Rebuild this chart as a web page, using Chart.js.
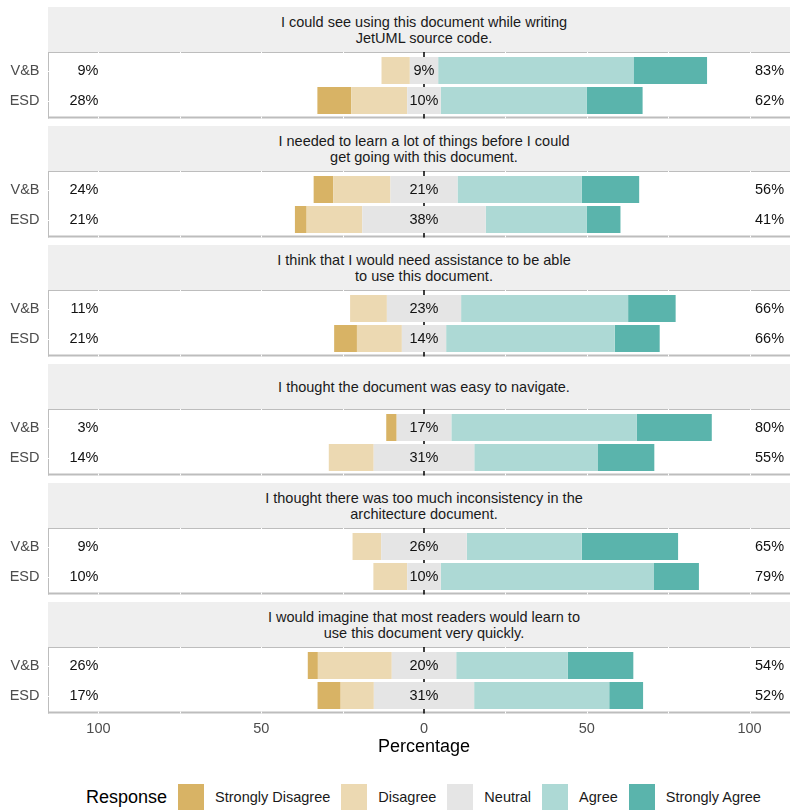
<!DOCTYPE html>
<html>
<head>
<meta charset="utf-8">
<script src="https://cdn.jsdelivr.net/npm/chart.js@4.4.1/dist/chart.umd.min.js"></script>
<style>
  html, body { margin: 0; padding: 0; width: 790px; height: 810px; overflow: hidden; background: #fff; }
  body { font-family: 'Liberation Sans', Arial, sans-serif; }
  #page { position: relative; width: 790px; height: 810px; overflow: hidden; }
  .strip {
    position: absolute; left: 48px; width: 752px; height: 45px;
    background: #efefef; color: #1a1a1a; font-size: 14.5px; line-height: 16px;
    display: flex; flex-direction: column; justify-content: center; align-items: center; text-align: center;
  }
  canvas { position: absolute; left: 0; }
  #legend { position: absolute; left: 86px; top: 783px; height: 28px; display: flex; align-items: center; white-space: nowrap; }
  #legend .title { font-size: 18px; color: #000; margin-right: 10px; }
  #legend .key { width: 28px; height: 28px; margin-right: 10px; box-sizing: border-box; border: 1px solid #fff; }
  #legend .lab { font-size: 14.5px; color: #1a1a1a; margin-right: 10px; }
</style>
</head>
<body>
<div id="page"></div>
<script>
const items = [
  'I could see using this document while writing\nJetUML source code.',
  'I needed to learn a lot of things before I could\nget going with this document.',
  'I think that I would need assistance to be able\nto use this document.',
  'I thought the document was easy to navigate.',
  'I thought there was too much inconsistency in the\narchitecture document.',
  'I would imagine that most readers would learn to\nuse this document very quickly.'
];
const groups = ['V&B', 'ESD'];
const responses = ['Strongly Disagree', 'Disagree', 'Neutral', 'Agree', 'Strongly Agree'];

// percent of answers, two per statement (V&B, ESD)
const stronglyDisagree = [0, 10.4, 6.0, 3.6, 0, 7.0, 3.2, 0, 0, 0, 3.1, 7.1];
const disagree = [8.7, 17.2, 17.6, 17.1, 11.3, 13.8, 0, 13.8, 8.8, 10.4, 22.7, 10.2];
const neutral = [8.7, 10.3, 20.6, 37.9, 22.8, 13.6, 16.8, 30.9, 26.3, 10.3, 19.8, 30.8];
const agree = [60.0, 44.8, 38.2, 31.0, 51.3, 51.8, 57.0, 38.0, 35.3, 65.5, 34.3, 41.5];
const stronglyAgree = [22.6, 17.2, 17.6, 10.4, 14.6, 13.8, 23.0, 17.3, 29.6, 13.8, 20.1, 10.4];

const xTicks = [-100, -75, -50, -25, 0, 25, 50, 75, 100];

const colors = ['#D8B365', '#ECD9B2', '#E5E5E5', '#ADD9D5', '#5AB4AC'];
const FONT = "'Liberation Sans', Arial, sans-serif";

const page = document.getElementById('page');

// frame, white grid breaks, zero line and the percent labels
const panelDecor = {
  id: 'panelDecor',
  beforeDraw(chart) {
    const ctx = chart.ctx;
    const area = chart.chartArea;
    const x = chart.scales.x, y = chart.scales.y;
    const top = area.top - 3.5;
    const bottom = area.bottom + 3;
    const w = area.right - area.left;
    ctx.save();
    ctx.fillStyle = '#bdbdbd';
    ctx.fillRect(area.left, top, w, 1);
    ctx.fillRect(area.left, bottom - 2, w, 2);
    ctx.fillRect(area.left, top, 1, bottom - top);
    ctx.fillStyle = '#fff';
    x.ticks.forEach(t => {
      if (t.value === 0) return;
      const px = Math.round(x.getPixelForValue(t.value));
      ctx.fillRect(px, top, 1, 1);
      ctx.fillRect(px, bottom - 2, 1, 2);
    });
    groups.forEach((g, j) => {
      const py = Math.round(y.getPixelForValue(j));
      ctx.fillRect(area.left, py, 1, 1);
    });
    ctx.restore();
  },
  beforeDatasetsDraw(chart) {
    const ctx = chart.ctx;
    const area = chart.chartArea;
    const x0 = chart.scales.x.getPixelForValue(0);
    ctx.save();
    ctx.strokeStyle = '#000';
    ctx.lineWidth = 1.5;
    ctx.beginPath();
    ctx.moveTo(x0, area.top - 3.5);
    ctx.lineTo(x0, area.bottom + 3);
    ctx.stroke();
    ctx.restore();
  },
  afterDatasetsDraw(chart) {
    const ctx = chart.ctx;
    const x = chart.scales.x, y = chart.scales.y;
    const rows = chart.options.plugins.panelDecor.rows;
    ctx.save();
    ctx.font = '14.5px ' + FONT;
    ctx.fillStyle = '#111';
    ctx.textBaseline = 'middle';
    rows.forEach((k, j) => {
      const py = y.getPixelForValue(j);
      const low = Math.round(stronglyDisagree[k] + disagree[k]);
      const mid = Math.round(neutral[k]);
      const high = Math.round(agree[k] + stronglyAgree[k]);
      ctx.textAlign = 'right';
      ctx.fillText(low + '%', x.getPixelForValue(-100), py);
      ctx.fillText(high + '%', x.getPixelForValue(110.6), py);
      ctx.textAlign = 'center';
      ctx.fillText(mid + '%', x.getPixelForValue(0), py);
    });
    ctx.restore();
  }
};

function nz(v) { return v === 0 ? null : v; }

items.forEach((item, i) => {
  const stripTop = 7 + i * 119;
  const strip = document.createElement('div');
  strip.className = 'strip';
  strip.style.top = stripTop + 'px';
  item.split('\n').forEach(line => {
    const d = document.createElement('div');
    d.textContent = line;
    strip.appendChild(d);
  });
  page.appendChild(strip);

  const last = i === items.length - 1;
  const canvas = document.createElement('canvas');
  const h = last ? 118 : 68;
  canvas.width = 802;
  canvas.height = h;
  canvas.style.width = '802px';
  canvas.style.height = h + 'px';
  canvas.style.top = (stripTop + 45) + 'px';
  page.appendChild(canvas);

  const rows = [2 * i, 2 * i + 1];

  new Chart(canvas.getContext('2d'), {
    type: 'bar',
    data: {
      labels: groups,
      datasets: [
        { label: responses[2], data: rows.map(k => nz(-neutral[k] / 2)), backgroundColor: colors[2] },
        { label: responses[1], data: rows.map(k => nz(-disagree[k])), backgroundColor: colors[1] },
        { label: responses[0], data: rows.map(k => nz(-stronglyDisagree[k])), backgroundColor: colors[0] },
        { label: responses[2], data: rows.map(k => nz(neutral[k] / 2)), backgroundColor: colors[2] },
        { label: responses[3], data: rows.map(k => nz(agree[k])), backgroundColor: colors[3] },
        { label: responses[4], data: rows.map(k => nz(stronglyAgree[k])), backgroundColor: colors[4] }
      ]
    },
    options: {
      indexAxis: 'y',
      responsive: false,
      animation: false,
      devicePixelRatio: 1,
      layout: { padding: { top: 3.5, bottom: last ? 0 : 4.5, left: 0, right: 2 } },
      datasets: { bar: { barPercentage: 0.9, categoryPercentage: 1, borderWidth: 0 } },
      plugins: {
        legend: { display: false },
        tooltip: { enabled: false },
        panelDecor: { rows: rows }
      },
      scales: {
        x: {
          type: 'linear',
          stacked: true,
          min: -115.5,
          max: 115.5,
          display: last,
          afterBuildTicks: s => { s.ticks = xTicks.map(v => ({ value: v })); },
          afterFit: s => {
            if (last) s.height = 54.5;
            s.paddingLeft = 0;
            s.paddingRight = 0;
          },
          grid: { display: false, drawTicks: false },
          border: { display: false },
          ticks: {
            padding: 9.3,
            color: '#4d4d4d',
            font: { family: FONT, size: 14.5 },
            autoSkip: false,
            maxRotation: 0,
            callback: v => (v % 50 === 0 ? String(Math.abs(v)) : '')
          },
          title: {
            display: true,
            text: 'Percentage',
            color: '#000',
            font: { family: FONT, size: 18 },
            padding: { top: 0, bottom: 7.5 }
          }
        },
        y: {
          type: 'category',
          stacked: true,
          afterFit: s => {
            s.width = 48;
            s.paddingTop = 0;
            s.paddingBottom = 0;
          },
          grid: { display: false, drawTicks: false },
          border: { display: false },
          ticks: {
            padding: 8.5,
            color: '#4d4d4d',
            font: { family: FONT, size: 14.5 }
          }
        }
      }
    },
    plugins: [panelDecor]
  });
});

// legend
const legend = document.createElement('div');
legend.id = 'legend';
const lt = document.createElement('span');
lt.className = 'title';
lt.textContent = 'Response';
legend.appendChild(lt);
responses.forEach((r, k) => {
  const key = document.createElement('span');
  key.className = 'key';
  key.style.background = colors[k];
  legend.appendChild(key);
  const lab = document.createElement('span');
  lab.className = 'lab';
  lab.textContent = r;
  legend.appendChild(lab);
});
page.appendChild(legend);
</script>
</body>
</html>
